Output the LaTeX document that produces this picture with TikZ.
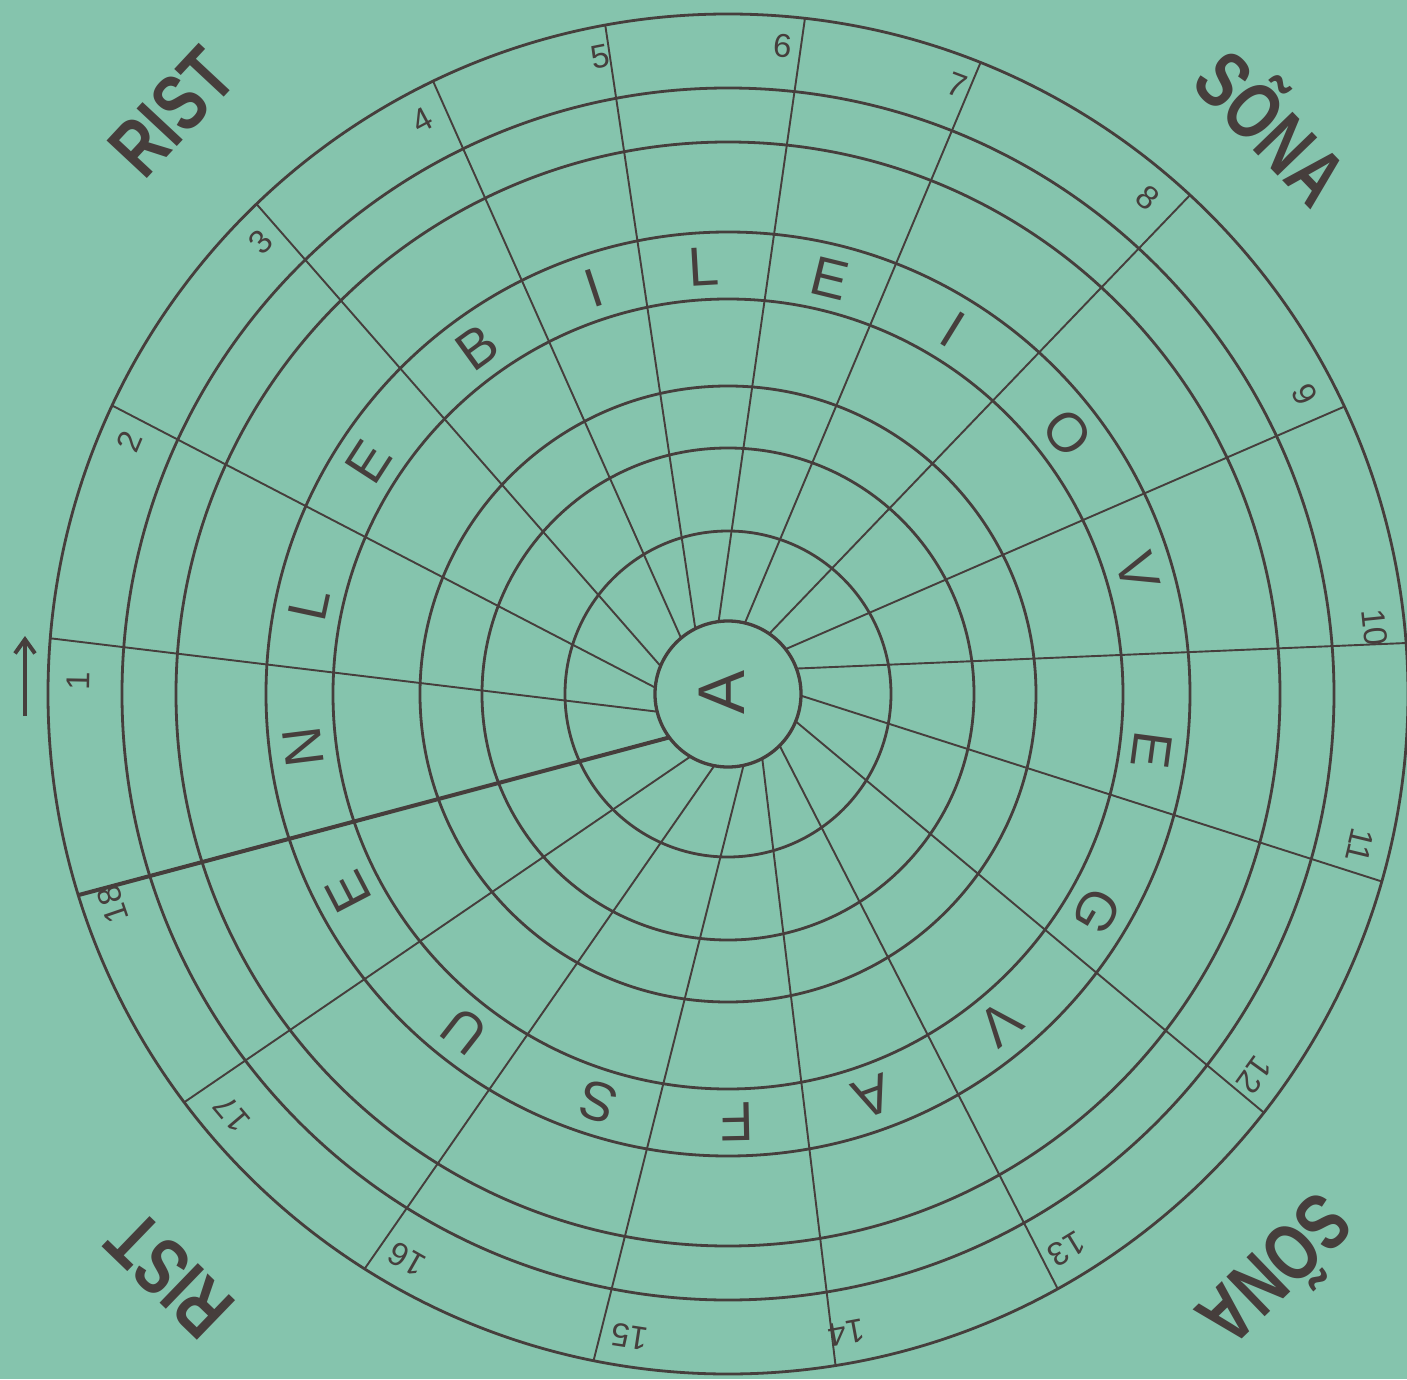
\documentclass[tikz,border=0pt]{standalone}
\usepackage{fontspec}
\setmainfont{Liberation Sans}
\newfontfamily\condfont[FakeStretch=0.76]{Liberation Sans}
\usetikzlibrary{arrows.meta}
\definecolor{bg}{RGB}{133,196,173}
\definecolor{ink}{RGB}{70,62,60}
\begin{document}
\begin{tikzpicture}[x=1pt,y=1pt,
  ring/.style={draw=ink,line width=2.8pt},
  spoke/.style={draw=ink,line width=1.9pt},
  boldspoke/.style={draw=ink,line width=4pt},
  numtxt/.style={text=ink,font=\fontsize{33}{33}\selectfont,inner sep=0pt},
  lettxt/.style={text=ink,font=\fontsize{55}{55}\selectfont,inner sep=0pt},
  cornertxt/.style={text=ink,font=\condfont\bfseries\fontsize{80}{80}\selectfont,inner sep=0pt}]
\fill[bg] (-728,-685) rectangle (679,694);
\useasboundingbox (-728,-685) rectangle (679,694);
% rings
\foreach \r in {163,246,308,395,462,552,606,680}
  \draw[ring] (0,0) circle[radius=\r];
\draw[ring,line width=3.3pt] (0,0) circle[radius=73];
% spokes (outer angle / inner angle)
\foreach \a/\b [count=\i] in {175.3/194,154.9/175,133.9/157.5,115.7/130,100.4/116.6,83.5/97.4,68.2/76.6,47.2/55.6,25/37.9,4.3/20.4,-16/-1.3,-38/-22,-61/-45,-80.9/-62,-101.4/-77.7,-122.3/-100.8,-143.1/-121}{
  \coordinate (so\i) at (\a:680);
  \coordinate (si\i) at (\b:73);
  \draw[spoke] (so\i) -- (si\i);
}
\coordinate (tso) at (197.2:680);
\coordinate (tsi) at (216.5:73);
\draw[boldspoke] (tso) -- (tsi);
% numbers
\foreach \n/\a in {1/178.9,2/157.1,3/135.9,4/118.1,5/101.3,6/85.2,7/69.4,8/49.8,9/27.4,10/5.9,11/-13.5,12/-35.9,13/-58.6,14/-79.5,15/-98.7,16/-119.6,17/-139.8,18/-161.1}
  \node[numtxt,rotate=\a-90] (n\n) at (\a:650) {\n};
% letters
\foreach \l/\a [count=\i] in {N/187.1,L/167.9,E/147.1,B/125.9,I/108.3,L/93.3,E/76.2,I/58.3,O/37.6,V/16.6,E/-7.6,G/-30.5,V/-50.4,A/-70.2,F/-88.8,S/-107.7,U/-128,E/-152.5}
  \node[lettxt,rotate=\a-90] (l\i) at (\a:428) {\l};
\node[lettxt,font=\fontsize{66}{66}\selectfont,rotate=90] (centerA) at (-6,2) {A};
% arrow
\coordinate (arA) at (-703,-22);
\coordinate (arB) at (-703,58);
\draw[ink,line width=4pt,-{Straight Barb[length=14pt,width=20pt,line width=4pt]}] (arA) -- (arB);
% corner words
\node[cornertxt,rotate=47] (tl) at (-556,582) {RIST};
\node[cornertxt,rotate=-46] (tr) at (548,571) {SÕNA};
\node[cornertxt,rotate=136] (bl) at (-558,-581) {RIST};
\node[cornertxt,rotate=-136] (br) at (552,-581) {SÕNA};
\end{tikzpicture}
\end{document}
